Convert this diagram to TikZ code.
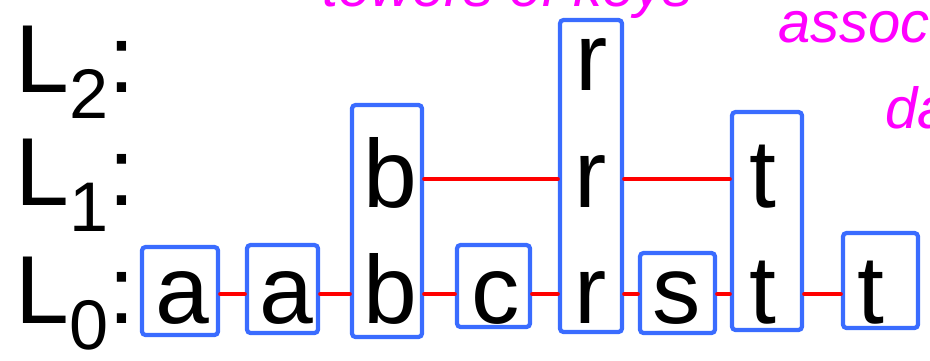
\documentclass[tikz,border=0pt]{standalone}
\usepackage{fontspec}
\setmainfont{Liberation Sans}
\usetikzlibrary{fit}
\definecolor{boxblue}{RGB}{58,108,255}
\definecolor{linkred}{RGB}{255,0,0}
\definecolor{pen}{RGB}{255,0,255}
\newcommand{\lsub}[1]{\raisebox{-0.52cm}{\fontsize{40}{40}\selectfont #1}}
\tikzset{
  sym/.style = {font=\fontsize{55}{60}\selectfont, inner sep=0pt, anchor=base},
  lvl/.style = {font=\fontsize{55}{60}\selectfont, inner sep=0pt, anchor=base west},
  colbox/.style = {draw=boxblue, line width=2.4pt, rounded corners=2pt, inner sep=0pt},
  link/.style = {draw=linkred, line width=2.2pt, line cap=round},
  note/.style = {font=\fontsize{33}{36}\selectfont\itshape, text=pen,
                 inner sep=0pt, anchor=base west}
}
\begin{document}
\begin{tikzpicture}[x=0.02cm, y=-0.02cm]
\useasboundingbox (0,0) rectangle (930,360);

% level labels
\node[lvl] (lab2) at (15,92)  {L\lsub{2}:};
\node[lvl] (lab1) at (15,205) {L\lsub{1}:};
\node[lvl] (lab0) at (15,323) {L\lsub{0}:};

% keys on L0
\node[sym] (a0) at (182,323) {a};
\node[sym] (a1) at (286,323) {a};
\node[sym] (b0) at (390,323) {b};
\node[sym] (c0) at (496,323) {c};
\node[sym] (r0) at (591,323) {r};
\node[sym] (s0) at (677,323) {s};
\node[sym] (t0) at (763,323) {t};
\node[sym] (u0) at (871,323) {t};
% keys on L1 and L2
\node[sym] (b1) at (390,207) {b};
\node[sym] (r1) at (591,207) {r};
\node[sym] (t1) at (763,207) {t};
\node[sym] (r2) at (592,90)  {r};

% towers
\node[colbox, fit={(142,247) (218,335)}] (colA) {};
\node[colbox, fit={(247,245) (318,333)}] (colB) {};
\node[colbox, fit={(352,105) (422,337)}] (colC) {};
\node[colbox, fit={(457,245) (530,327)}] (colD) {};
\node[colbox, fit={(560,20) (622,332)}]  (colE) {};
\node[colbox, fit={(640,253) (715,333)}] (colF) {};
\node[colbox, fit={(732,112) (802,330)}] (colG) {};
\node[colbox, fit={(843,233) (918,328)}] (colH) {};

\coordinate (row0) at (0,294);
\coordinate (row1) at (0,179);

\foreach \x/\y in {colA/colB, colB/colC, colC/colD, colD/colE, colE/colF, colF/colG, colG/colH}
  \draw[link] (\x.east |- row0) -- (\y.west |- row0);
\foreach \x/\y in {colC/colE, colE/colG}
  \draw[link] (\x.east |- row1) -- (\y.west |- row1);

% handwritten remarks, cut by the frame
\begin{scope}
\clip (0,0) rectangle (930,360);
\node[note] (note0) at (322,6)   {towers of keys};
\node[note] (note1) at (778,42)  {associated};
\node[note] (note2) at (885,128) {data};
\end{scope}

\end{tikzpicture}
\end{document}
